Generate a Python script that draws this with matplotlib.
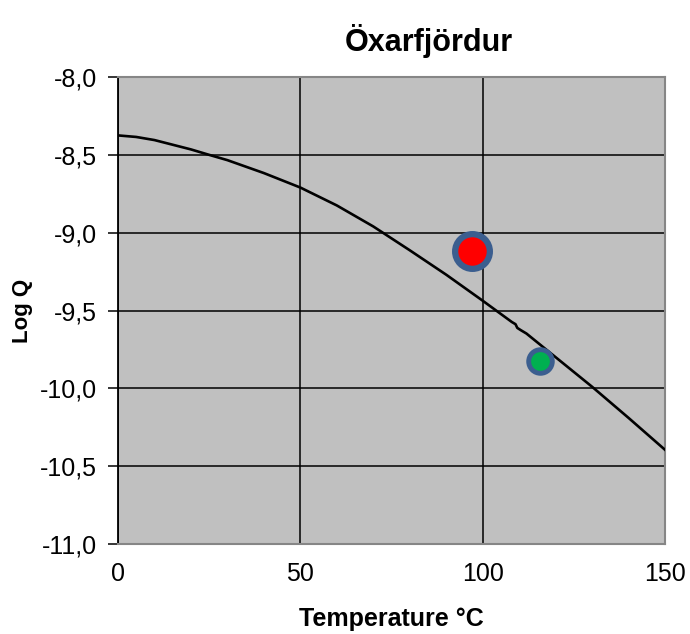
import numpy as np
import matplotlib
matplotlib.use("Agg")
import matplotlib.pyplot as plt
from matplotlib.ticker import FuncFormatter

plt.rcParams['font.family'] = ['Liberation Sans', 'DejaVu Sans']

# curve
temp = [0, 5, 10, 20, 25, 30, 40, 50, 60, 70, 80, 90, 100,
        108, 109, 109.5, 110.5, 112, 120, 130, 140, 150]
logq = [-8.375, -8.385, -8.405, -8.465, -8.50, -8.534, -8.617, -8.71,
        -8.825, -8.96, -9.113, -9.27, -9.437,
        -9.574, -9.588, -9.612, -9.627, -9.648, -9.80, -9.99, -10.19, -10.395]

# measured samples
red_t, red_q = [97.2], [-9.115]
green_t, green_q = [115.6], [-9.824]

fig = plt.figure(figsize=(6.9, 6.34), dpi=100)
ax = fig.add_axes([0.1710, 0.1420, 0.7928, 0.7365])
ax.set_facecolor('#c0c0c0')

ax.plot(temp, logq, color='black', lw=1.9, zorder=3)
ax.plot(red_t, red_q, 'o', ms=25, mfc='#ff0000', mec='#3b5e8f', mew=4.5, zorder=4)
ax.plot(green_t, green_q, 'o', ms=17, mfc='#00b050', mec='#3b5e8f', mew=3.5, zorder=4)

ax.set_xlim(0, 150)
ax.set_ylim(-11, -8)
ax.set_xticks([0, 50, 100, 150])
ax.set_yticks(np.arange(-11, -7.99, 0.5))
ax.yaxis.set_major_formatter(FuncFormatter(lambda v, p: f'{v:.1f}'.replace('.', ',')))
ax.grid(True, color='black', lw=1.1)
ax.set_axisbelow(True)

for s in ['top', 'right', 'bottom']:
    ax.spines[s].set_color('#868686')
    ax.spines[s].set_linewidth(1.5)
ax.spines['left'].set_color('black')
ax.spines['left'].set_linewidth(1.3)

ax.tick_params(axis='y', length=7, width=1.1, pad=8, labelsize=18, direction='out')
ax.tick_params(axis='x', length=0, pad=13, labelsize=18)

ax.set_xlabel('Temperature °C', fontsize=18, fontweight='bold', labelpad=15)
ax.set_ylabel('Log Q', fontsize=16, fontweight='bold', labelpad=5)
fig.text(0.622, 0.935, 'Öxarfjördur', fontsize=22, fontweight='bold', ha='center', va='center')

fig.savefig('out.png', dpi=100)
